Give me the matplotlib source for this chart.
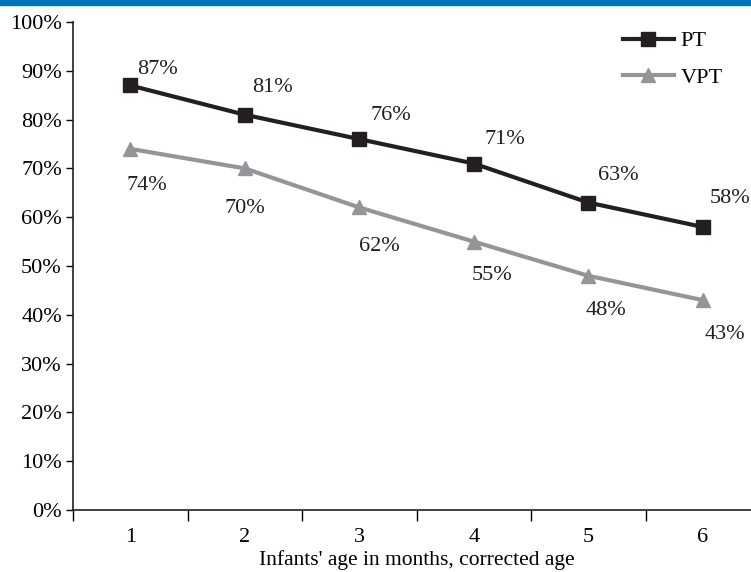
import matplotlib
matplotlib.use("Agg")
import matplotlib.pyplot as plt
from matplotlib.ticker import FuncFormatter, FixedLocator

months = [1, 2, 3, 4, 5, 6]
pt = [87, 81, 76, 71, 63, 58]
vpt = [74, 70, 62, 55, 48, 43]
pt_label_off = [(27, 16), (28, 27), (32, 24), (31, 24), (30, 27), (27, 28)]
vpt_label_off = [(17, -37), (0, -40), (20, -39), (18, -34), (18, -35), (22, -34)]

plt.rcParams['font.family'] = ['Liberation Serif', 'DejaVu Serif']

fig = plt.figure(figsize=(7.51, 5.72), dpi=100)
# blue band at top
fig.patches.append(plt.Rectangle((0, 1 - 5/572), 1, 5/572, transform=fig.transFigure,
                                 color='#0072BC', zorder=0))

left = 73/751
bottom = 1 - 510/572
height = (510 - 22)/572
width = (760 - 73)/751
ax = fig.add_axes([left, bottom, width, height])

ax.plot(months, pt, color='#231F20', lw=3.0, marker='s', ms=10, label='PT', clip_on=False, zorder=3)
ax.plot(months, vpt, color='#939598', lw=3.0, marker='^', ms=10, label='VPT', clip_on=False, zorder=3)

for x, y, (dx, dy) in zip(months, pt, pt_label_off):
    ax.annotate(f"{y}%", (x, y), xytext=(dx*0.72, dy*0.72), textcoords='offset points',
                ha='center', va='center', fontsize=16, color='#231F20')
for x, y, (dx, dy) in zip(months, vpt, vpt_label_off):
    ax.annotate(f"{y}%", (x, y), xytext=(dx*0.72, dy*0.72), textcoords='offset points',
                ha='center', va='center', fontsize=16, color='#231F20')

ax.set_xlim(0.5, 6.5)
ax.set_ylim(0, 100)
ax.yaxis.set_major_locator(FixedLocator(range(0, 101, 10)))
ax.yaxis.set_major_formatter(FuncFormatter(lambda v, p: f"{int(v)}%"))
ax.set_xticks(months)
ax.set_xticks([m + 0.5 for m in [0] + months], minor=True)
ax.tick_params(axis='x', which='major', length=0, labelsize=16, pad=13)
ax.tick_params(axis='x', which='minor', length=8, width=1, direction='out')
ax.tick_params(axis='y', which='major', length=5, width=1, direction='out', labelsize=16, pad=3)
for s in ['top', 'right']:
    ax.spines[s].set_visible(False)
for s in ['left', 'bottom']:
    ax.spines[s].set_color('#231F20')
    ax.spines[s].set_linewidth(1.2)

ax.set_xlabel("Infants' age in months, corrected age", fontsize=15.5, labelpad=2)

leg = ax.legend(loc='upper left', bbox_to_anchor=(0.771, 1.023), frameon=False, fontsize=16,
                handlelength=2.3, labelspacing=0.72, handletextpad=0.3, markerscale=1.0)

fig.savefig("out.png", dpi=100)
